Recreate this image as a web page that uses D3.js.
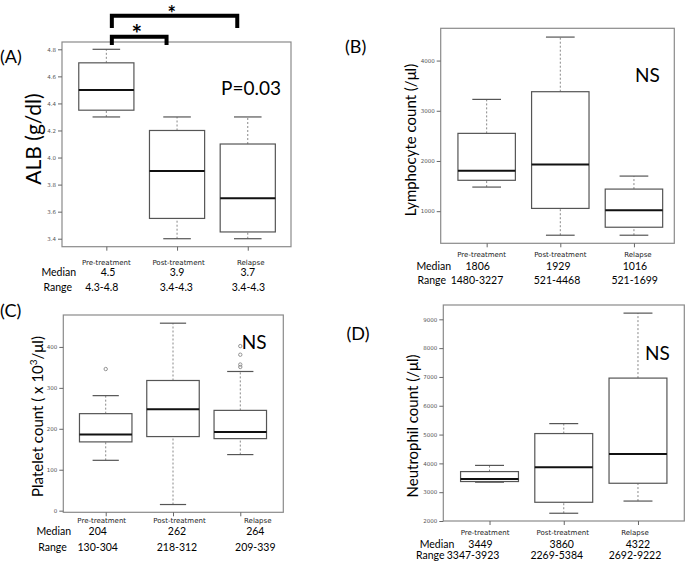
<!DOCTYPE html>
<html>
<head>
<meta charset="utf-8">
<script src="https://cdn.jsdelivr.net/npm/d3@7"></script>
<style>
  body { margin: 0; background: #fff; }
  svg { display: block; }
  text { font-family: Lato, "Open Sans", sans-serif; }
</style>
</head>
<body>
<svg id="chart" width="685" height="564"></svg>
<script>
// categories shared by every panel
const groups = ['Pre-treatment', 'Post-treatment', 'Relapse'];

// (A) albumin
const albLow = [4.3, 3.4, 3.4];
const albQ1 = [4.35, 3.55, 3.45];
const albMed = [4.5, 3.9, 3.7];
const albQ3 = [4.7, 4.2, 4.1];
const albHigh = [4.8, 4.3, 4.3];
const albTicks = [3.4, 3.6, 3.8, 4.0, 4.2, 4.4, 4.6, 4.8];
const albMedText = ['4.5', '3.9', '3.7'];
const albRangeText = ['4.3-4.8', '3.4-4.3', '3.4-4.3'];

// (B) lymphocytes
const lymLow = [1480, 521, 521];
const lymQ1 = [1615, 1055, 680];
const lymMed = [1806, 1929, 1016];
const lymQ3 = [2550, 3380, 1440];
const lymHigh = [3227, 4468, 1699];
const lymTicks = [1000, 2000, 3000, 4000];
const lymMedText = ['1806', '1929', '1016'];
const lymRangeText = ['1480-3227', '521-4468', '521-1699'];

// (C) platelets
const pltLow = [123, 15, 137];
const pltQ1 = [168, 181, 176];
const pltMed = [186, 248, 192];
const pltQ3 = [237, 318, 245];
const pltHigh = [281, 458, 340];
const pltOut = [[346], [], [351, 357, 381, 402]];
const pltTicks = [0, 100, 200, 300, 400];
const pltMedText = ['204', '262', '264'];
const pltRangeText = ['130-304', '218-312', '209-339'];

// (D) neutrophils
const neuLow = [3347, 2269, 2692];
const neuQ1 = [3370, 2650, 3310];
const neuMed = [3455, 3862, 4325];
const neuQ3 = [3715, 5035, 6960];
const neuHigh = [3930, 5380, 9215];
const neuTicks = [2000, 3000, 4000, 5000, 6000, 7000, 8000, 9000];
const neuMedText = ['3449', '3860', '4322'];
const neuRangeText = ['3347-3923', '2269-5384', '2692-9222'];

const svg = d3.select('#chart');

const panels = [
  {
    tag: '(A)', tagX: 0, tagY: 57,
    title: 'ALB (g/dl)', titleX: 34, titleY: 139, titleSize: 21,
    stat: 'P=0.03', statX: 221, statY: 88,
    frame: [62, 42, 291, 246.7], xr: [62.5, 291.6], yd: [3.341, 4.854],
    low: albLow, q1: albQ1, med: albMed, q3: albQ3, high: albHigh, out: [[], [], []],
    ticks: albTicks, fmt: d3.format('.1f'),
    medText: albMedText, rangeText: albRangeText,
    catY: 262.2, medY: 272.5, rangeY: 287.5, medLabX: 76, rangeLabX: 72,
    catDx: [0, 1.5, 3], medDx: [1.7, 0, 0], rangeDx: [-4.6, -0.7, 0.6]
  },
  {
    tag: '(B)', tagX: 345, tagY: 47,
    title: 'Lymphocyte count (/\u03bcl)', titleX: 411, titleY: 140, titleSize: 15,
    stat: 'NS', statX: 635, statY: 75,
    frame: [440.7, 28.3, 674.3, 243.3], xr: [441, 679.6], yd: [360, 4643],
    low: lymLow, q1: lymQ1, med: lymMed, q3: lymQ3, high: lymHigh, out: [[], [], []],
    ticks: lymTicks, fmt: d3.format('d'),
    medText: lymMedText, rangeText: lymRangeText,
    catY: 255, medY: 266.5, rangeY: 280.5, medLabX: 451, rangeLabX: 446,
    catDx: [-5, 0, 4], medDx: [-9, -2, 1], rangeDx: [-9.7, -3.3, 0.7]
  },
  {
    tag: '(C)', tagX: 0, tagY: 310.7,
    title: null, titleX: 38, titleY: 416.5, titleSize: 15,
    stat: 'NS', statX: 241.7, statY: 342.7,
    frame: [63.3, 315, 283.3, 512.3], xr: [64, 282], yd: [-4, 478],
    low: pltLow, q1: pltQ1, med: pltMed, q3: pltQ3, high: pltHigh, out: pltOut,
    ticks: pltTicks, fmt: d3.format('d'),
    medText: pltMedText, rangeText: pltRangeText,
    catY: 520.3, medY: 531.8, rangeY: 547, medLabX: 71, rangeLabX: 66.7,
    catDx: [-4, 6.5, 17.5], medDx: [-8, 4, 15], rangeDx: [-8, 4, 15]
  },
  {
    tag: '(D)', tagX: 346.5, tagY: 333.3,
    title: 'Neutrophil count (/\u03bcl)', titleX: 413, titleY: 426, titleSize: 15,
    stat: 'NS', statX: 645, statY: 353.3,
    frame: [443.3, 305, 684.3, 521], xr: [443.5, 684], yd: [2000, 9497],
    low: neuLow, q1: neuQ1, med: neuMed, q3: neuQ3, high: neuHigh, out: [[], [], []],
    ticks: neuTicks, fmt: d3.format('d'),
    medText: neuMedText, rangeText: neuRangeText,
    catY: 532.5, medY: 544, rangeY: 555.5, medLabX: 454.3, rangeLabX: 444.5,
    catDx: [-4.5, -1, -3], medDx: [-9, -2, 0], rangeDx: [-16.5, -7, -3]
  }
];

panels.forEach(function(p) {
  const g = svg.append('g');
  const [fx0, fy0, fx1, fy1] = p.frame;

  const x = d3.scalePoint().domain(groups).range(p.xr).padding(0.62);
  const y = d3.scaleLinear().domain(p.yd).range([fy1, fy0]);
  const bw = x.step() * 0.78;

  // frame
  g.append('rect')
    .attr('x', fx0).attr('y', fy0)
    .attr('width', fx1 - fx0).attr('height', fy1 - fy0)
    .attr('fill', 'none').attr('stroke', '#8a8a8a').attr('stroke-width', 1.2);

  // y axis
  const ya = g.append('g')
    .attr('transform', 'translate(' + fx0 + ',0)')
    .call(d3.axisLeft(y).tickValues(p.ticks).tickFormat(p.fmt).tickSize(4).tickPadding(2));
  ya.select('.domain').remove();
  ya.selectAll('line').attr('stroke', '#666');
  ya.selectAll('text').attr('fill', '#555').style('font-size', '5.5px')
    .style('font-family', '"DejaVu Sans", sans-serif');

  // x axis ticks
  const xa = g.append('g')
    .attr('transform', 'translate(0,' + fy1 + ')')
    .call(d3.axisBottom(x).tickSize(4).tickFormat(''));
  xa.select('.domain').remove();
  xa.selectAll('line').attr('stroke', '#666');

  const idx = [0, 1, 2];
  const box = g.selectAll('.bx').data(idx).join('g')
    .attr('transform', function(i) { return 'translate(' + x(groups[i]) + ',0)'; });

  // whiskers
  box.append('line')
    .attr('y1', function(i) { return y(p.low[i]); })
    .attr('y2', function(i) { return y(p.q1[i]); })
    .attr('stroke', '#888').attr('stroke-dasharray', '2,2');
  box.append('line')
    .attr('y1', function(i) { return y(p.q3[i]); })
    .attr('y2', function(i) { return y(p.high[i]); })
    .attr('stroke', '#888').attr('stroke-dasharray', '2,2');
  ['low', 'high'].forEach(function(k) {
    box.append('line')
      .attr('x1', -bw / 4).attr('x2', bw / 4)
      .attr('y1', function(i) { return y(p[k][i]); })
      .attr('y2', function(i) { return y(p[k][i]); })
      .attr('stroke', '#555').attr('stroke-width', 1.2);
  });

  box.append('rect')
    .attr('x', -bw / 2).attr('width', bw)
    .attr('y', function(i) { return y(p.q3[i]); })
    .attr('height', function(i) { return y(p.q1[i]) - y(p.q3[i]); })
    .attr('fill', '#fff').attr('stroke', '#555').attr('stroke-width', 1.2);

  box.append('line')
    .attr('x1', -bw / 2).attr('x2', bw / 2)
    .attr('y1', function(i) { return y(p.med[i]); })
    .attr('y2', function(i) { return y(p.med[i]); })
    .attr('stroke', '#111').attr('stroke-width', 2);

  box.each(function(i) {
    d3.select(this).selectAll('circle').data(p.out[i]).join('circle')
      .attr('cy', function(v) { return y(v); })
      .attr('r', 1.7)
      .attr('fill', 'none').attr('stroke', '#888').attr('stroke-width', 0.9);
  });

  // category labels and median / range rows
  g.selectAll('.cat').data(idx).join('text')
    .attr('x', function(i) { return x(groups[i]) + p.catDx[i]; })
    .attr('y', p.catY)
    .attr('dy', '0.35em').attr('text-anchor', 'middle')
    .style('font-family', '"DejaVu Sans", sans-serif').style('font-size', '7px')
    .attr('fill', '#222')
    .text(function(i) { return groups[i]; });

  g.append('text').attr('x', p.medLabX).attr('y', p.medY).attr('dy', '0.35em')
    .attr('text-anchor', 'end').style('font-size', '10.5px').text('Median');
  g.append('text').attr('x', p.rangeLabX).attr('y', p.rangeY).attr('dy', '0.35em')
    .attr('text-anchor', 'end').style('font-size', '10.5px').text('Range');

  g.selectAll('.md').data(idx).join('text')
    .attr('x', function(i) { return x(groups[i]) + p.medDx[i]; })
    .attr('y', p.medY).attr('dy', '0.35em').attr('text-anchor', 'middle')
    .style('font-size', '10.5px')
    .text(function(i) { return p.medText[i]; });
  g.selectAll('.rg').data(idx).join('text')
    .attr('x', function(i) { return x(groups[i]) + p.rangeDx[i]; })
    .attr('y', p.rangeY).attr('dy', '0.35em').attr('text-anchor', 'middle')
    .style('font-size', '10.5px')
    .text(function(i) { return p.rangeText[i]; });

  // panel tag, stat, y title
  g.append('text').attr('x', p.tagX).attr('y', p.tagY).attr('dy', '0.35em')
    .style('font-size', '18px').text(p.tag);
  g.append('text').attr('x', p.statX).attr('y', p.statY).attr('dy', '0.35em')
    .style('font-size', '19px').text(p.stat);

  const t = g.append('text')
    .attr('transform', 'translate(' + p.titleX + ',' + p.titleY + ') rotate(-90)')
    .attr('dy', '0.35em').attr('text-anchor', 'middle')
    .style('font-size', p.titleSize + 'px');
  if (p.title) {
    t.text(p.title);
  } else {
    t.append('tspan').text('Platelet count ( x 10');
    t.append('tspan').attr('baseline-shift', 'super').style('font-size', '10px').text('3');
    t.append('tspan').text('/\u03bcl)');
  }

  p.x = x;
});

// significance brackets for panel A
const brackets = [
  { from: 0, to: 1, top: 36.7, foot: 45, starX: 136.7, starY: 43, starSize: 25 },
  { from: 0, to: 2, top: 15.7, foot: 28, starX: 171.7, starY: 20.5, starSize: 20 }
];
const xa = panels[0].x;
brackets.forEach(function(b) {
  const x0 = xa(groups[b.from]) + 5.5;
  const x1 = xa(groups[b.to]) - 10.5;
  svg.append('path')
    .attr('d', 'M' + x0 + ',' + b.foot + 'V' + b.top + 'H' + x1 + 'V' + b.foot)
    .attr('fill', 'none').attr('stroke', '#000').attr('stroke-width', 4)
    .attr('stroke-linejoin', 'miter');
  svg.append('text').attr('x', b.starX).attr('y', b.starY)
    .attr('text-anchor', 'middle').style('font-size', b.starSize + 'px').style('font-weight', 'bold')
    .text('*');
});
</script>
</body>
</html>
